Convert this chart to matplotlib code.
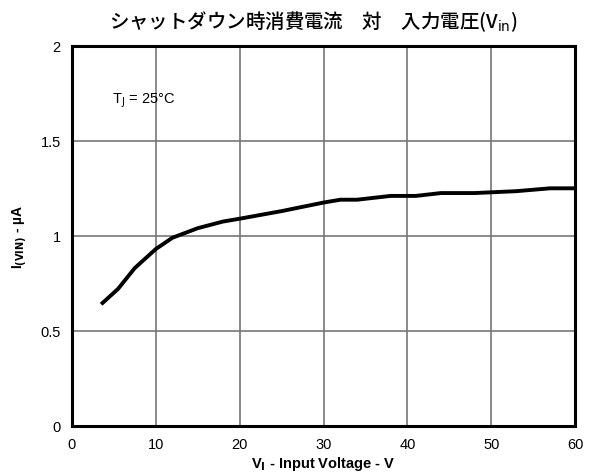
import matplotlib
matplotlib.use('Agg')
import matplotlib.pyplot as plt

# shutdown current vs input voltage
vin = [3.5, 5.5, 7.5, 10, 12, 15, 18, 20, 25, 30, 32, 34, 38, 41, 44, 48, 53, 57, 60]
i_vin = [0.64, 0.72, 0.83, 0.93, 0.99, 1.04, 1.075, 1.09, 1.13, 1.175, 1.19, 1.19,
         1.21, 1.21, 1.225, 1.225, 1.235, 1.25, 1.25]
xticks = [0, 10, 20, 30, 40, 50, 60]
yticks = [0, 0.5, 1, 1.5, 2]
ytick_labels = ['0', '0.5', '1', '1.5', '2']

plt.rcParams['font.family'] = ['Liberation Sans', 'DejaVu Sans']

fig = plt.figure(figsize=(6.03, 4.77), dpi=100)
ax = fig.add_axes([0.119, 0.105, 0.835, 0.797])

ax.plot(vin, i_vin, color='black', lw=2.8, solid_capstyle='butt')
ax.set_xlim(0, 60)
ax.set_ylim(0, 2)
ax.set_xticks(xticks)
ax.set_yticks(yticks)
ax.set_yticklabels(ytick_labels)
ax.grid(True, color='#777777', lw=1.2)
ax.tick_params(length=0, labelsize=10.5, pad=8)
for s in ax.spines.values():
    s.set_linewidth(2.2)

ax.set_xlabel(r'V$_\mathbf{I}$ - Input Voltage - V', fontsize=10.5, fontweight='bold', labelpad=2)
ax.set_ylabel(r'I$_\mathbf{(VIN)}$ - µA', fontsize=10, fontweight='bold', labelpad=8)
ax.text(4.8, 1.7, r'T$_\mathrm{J}$ = 25°C', fontsize=10.5)

fig.text(0.52, 0.955, 'シャットダウン時消費電流　対　入力電圧(V$_\\mathrm{in}$)',
         ha='center', va='center', fontsize=14, fontweight='medium',
         family=['Noto Sans CJK JP', 'DejaVu Sans'])

fig.savefig('out.png', dpi=100)
